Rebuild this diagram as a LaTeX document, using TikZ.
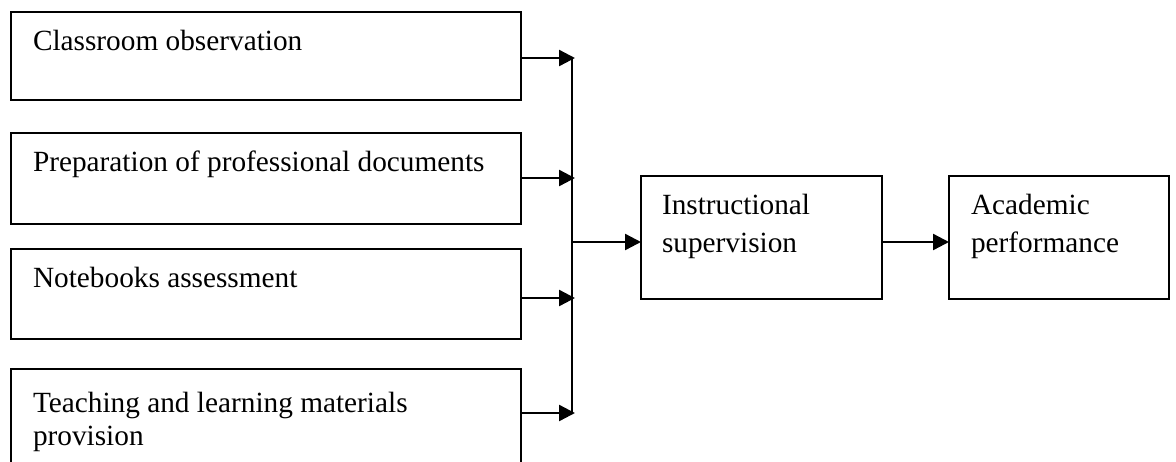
\documentclass[tikz,border=0pt]{standalone}
\usepackage{fontspec}
\setmainfont{Liberation Serif}
\usetikzlibrary{arrows.meta}
\begin{document}
\begin{tikzpicture}[x=1pt,y=-1pt,
  box/.style={draw=black, line width=2.2pt, rectangle, inner sep=0pt, outer sep=0pt, anchor=north west},
  lbl/.style={inner sep=0pt, outer sep=0pt, anchor=base west, align=left, font=\fontsize{29.3}{33}\selectfont},
  arr/.style={line width=2.4pt, -{Triangle[length=16pt,width=16pt]}},
  conn/.style={line width=2.2pt}]
\useasboundingbox (0,0) rectangle (1176,461);
% left boxes
\node[box, minimum width=510pt, minimum height=88pt] (b1) at (11,12) {};
\node[box, minimum width=510pt, minimum height=91pt] (b2) at (11,133) {};
\node[box, minimum width=510pt, minimum height=90pt] (b3) at (11,249) {};
\node[box, minimum width=510pt, minimum height=110pt] (b4) at (11,369) {};
% right boxes
\node[box, minimum width=241pt, minimum height=123pt] (is) at (641,176) {};
\node[box, minimum width=220pt, minimum height=123pt] (ap) at (949,176) {};
% labels
\node[lbl] (t1) at (33,50) {Classroom observation};
\node[lbl] (t2) at (33,171) {Preparation of professional documents};
\node[lbl] (t3) at (33,287) {Notebooks assessment};
\node[lbl] (t4) at (33,445) {Teaching and learning materials\\provision};
\node[lbl, font=\fontsize{29.3}{38}\selectfont] (t5) at (662,252) {Instructional\\supervision};
\node[lbl, font=\fontsize{29.3}{38}\selectfont] (t6) at (971,252) {Academic\\performance};
% junction coordinates
\coordinate (j1) at (575,58);
\coordinate (j2) at (575,178);
\coordinate (j3) at (575,298);
\coordinate (j4) at (575,413);
\coordinate (jt) at (572,58);
\coordinate (jb) at (572,413);
\coordinate (jm) at (572,242);
% connectors
\draw[arr] (b1.east |- j1) -- (j1);
\draw[arr] (b2.east |- j2) -- (j2);
\draw[arr] (b3.east |- j3) -- (j3);
\draw[arr] (b4.east |- j4) -- (j4);
\draw[conn] (jt) -- (jb);
\draw[arr] (jm) -- (is.west |- jm);
\draw[arr] (is.east |- jm) -- (ap.west |- jm);
\end{tikzpicture}
\end{document}
